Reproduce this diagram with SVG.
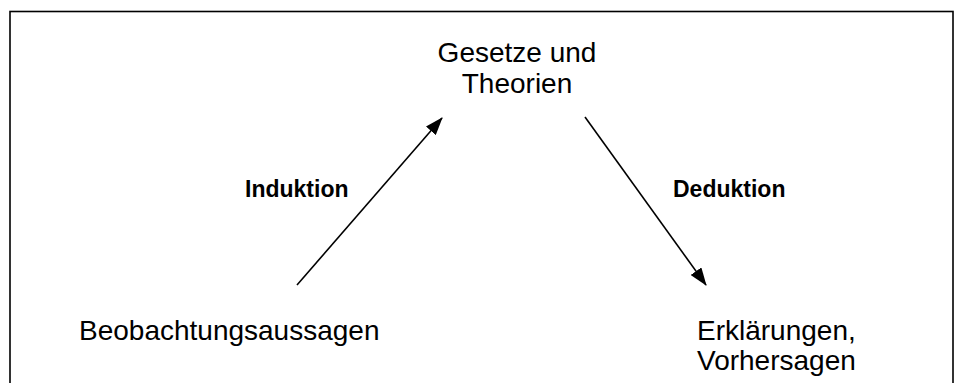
<svg xmlns="http://www.w3.org/2000/svg" width="956" height="383" viewBox="0 0 956 383">
<style>
.t{font-family:"Liberation Sans",Arial,sans-serif;font-size:28px;fill:#000}
.b{font-family:"Liberation Sans",Arial,sans-serif;font-size:23px;font-weight:bold;fill:#000}
.c{stroke:#000;stroke-width:1.6;fill:none}
</style>
<defs>
<marker id="ah" markerUnits="userSpaceOnUse" markerWidth="18" markerHeight="13" refX="17" refY="6.5" orient="auto" viewBox="0 0 18 13">
<path d="M0,0 L18,6.5 L0,13 Z" fill="#000"/>
</marker>
</defs>
<rect x="10" y="11.5" width="943" height="400" fill="#fff" stroke="#000" stroke-width="1.6"/>
<g id="connectors">
<line class="c" x1="297" y1="285" x2="442" y2="118" marker-end="url(#ah)"/>
<line class="c" x1="585" y1="117" x2="706" y2="285" marker-end="url(#ah)"/>
</g>
<g id="theorien"><text class="t" text-anchor="middle" x="517" y="62">Gesetze und</text><text class="t" text-anchor="middle" x="517" y="93">Theorien</text></g>
<g id="beobachtung"><text class="t" x="79" y="340">Beobachtungsaussagen</text></g>
<g id="erklaerungen"><text class="t" x="697" y="340">Erklärungen,</text><text class="t" x="697" y="370">Vorhersagen</text></g>
<g id="induktion"><text class="b" x="245" y="197">Induktion</text></g>
<g id="deduktion"><text class="b" x="673" y="197">Deduktion</text></g>
</svg>
